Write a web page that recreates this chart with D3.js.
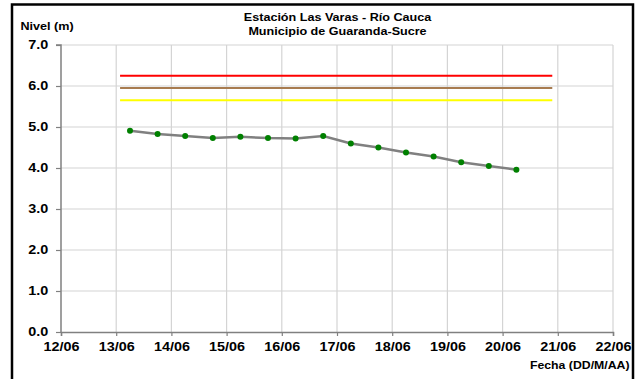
<!DOCTYPE html>
<html><head><meta charset="utf-8">
<script src="https://cdn.jsdelivr.net/npm/d3@7"></script>
<style>body{margin:0;background:#fff}svg{display:block;font-family:"Liberation Sans",Arial,sans-serif}</style>
</head><body><svg id="c" width="643" height="379"></svg>
<script>
// Data: day offsets measured from 12/06 (0 = 12/06 00:00)
const titleLines = ["Estación Las Varas - Río Cauca", "Municipio de Guaranda-Sucre"];
const xTickLabels = ["12/06","13/06","14/06","15/06","16/06","17/06","18/06","19/06","20/06","21/06","22/06"];
const yTickValues = [0,1,2,3,4,5,6,7];
const obsDays = [1.25,1.75,2.25,2.75,3.25,3.75,4.25,4.75,5.25,5.75,6.25,6.75,7.25,7.75,8.25];
const obsLevels = [4.91,4.83,4.78,4.73,4.76,4.73,4.72,4.78,4.60,4.50,4.38,4.28,4.14,4.05,3.96];
const thresholdNames = ["rojo","naranja","amarillo"];
const thresholdLevels = [6.25,5.95,5.65];
const thresholdColors = ["#ff0000","#a87c50","#ffff00"];
const thresholdSpan = [1.07, 8.9];

const SX = 1.2; // horizontal stretch of text seen in the reference
const svg = d3.select("#c");
const x = d3.scaleLinear().domain([0,10]).range([61,613]);
const y = d3.scaleLinear().domain([0,7]).range([332,45]);

// outer frame
svg.append("rect").attr("x",12).attr("y",4.5).attr("width",621).attr("height",390)
  .attr("fill","none").attr("stroke","#000").attr("stroke-width",2.5);

// grid
svg.append("g").selectAll("line").data(yTickValues.filter(v=>v>0)).join("line")
  .attr("x1",x(0)).attr("x2",x(10)).attr("y1",d=>y(d)).attr("y2",d=>y(d))
  .attr("stroke","#d4d4d4").attr("stroke-width",1.2);
svg.append("g").selectAll("line").data(d3.range(1,11)).join("line")
  .attr("x1",d=>x(d)).attr("x2",d=>x(d)).attr("y1",y(0)).attr("y2",y(7))
  .attr("stroke","#d4d4d4").attr("stroke-width",1.2);

// axes
const yAxis = d3.axisLeft(y).tickValues(yTickValues).tickFormat(d3.format(".1f")).tickSize(5);
const gy = svg.append("g").attr("transform",`translate(${x(0)},0)`).call(yAxis);
const xAxis = d3.axisBottom(x).tickValues(d3.range(0,11)).tickFormat((d,i)=>xTickLabels[i]).tickSize(4);
const gx = svg.append("g").attr("transform",`translate(0,${y(0)})`).call(xAxis);
[gx,gy].forEach(g=>{
  g.select(".domain").attr("stroke","#808080").attr("stroke-width",1.5);
  g.selectAll(".tick line").attr("stroke","#808080").attr("stroke-width",1.2);
  g.selectAll("text").attr("fill","#000").style("font-weight","bold").style("font-size","12px")
    .style("font-family",'"Liberation Sans",Arial,sans-serif');
});
gy.select(".domain").attr("d",`M-5,${y(7)}H0V${y(0)}`);
gy.selectAll(".tick text").attr("x",-12.7/SX).attr("transform",`scale(${SX},1)`);
gx.selectAll(".tick text").attr("y",18.7).attr("dy",0).attr("transform",`scale(${SX},1)`);

// thresholds
svg.append("g").selectAll("line").data(thresholdLevels).join("line")
  .attr("x1",x(thresholdSpan[0])).attr("x2",x(thresholdSpan[1]))
  .attr("y1",d=>y(d)).attr("y2",d=>y(d))
  .attr("stroke",(d,i)=>thresholdColors[i]).attr("stroke-width",2);

// series
const pts = obsDays.map((d,i)=>[d,obsLevels[i]]);
svg.append("path").datum(pts).attr("fill","none").attr("stroke","#808080").attr("stroke-width",2.5)
  .attr("d",d3.line().x(d=>x(d[0])).y(d=>y(d[1])));
svg.append("g").selectAll("circle").data(pts).join("circle")
  .attr("cx",d=>x(d[0])).attr("cy",d=>y(d[1])).attr("r",3).attr("fill","#008000");

// texts
function stretchedText(tx, ty, str, size, anchor, sx){
  svg.append("text").attr("transform",`translate(${tx},${ty}) scale(${sx||SX},1)`)
    .attr("text-anchor",anchor).style("font-weight","bold").style("font-size",size+"px").text(str);
}
titleLines.forEach((t,i)=>stretchedText(337.5, 21+i*14, t, 10.5, "middle"));
stretchedText(20.5, 29.5, "Nivel (m)", 10.5, "start");
stretchedText(629.5, 369, "Fecha (DD/M/AA)", 10, "end", 1.23);
</script></body></html>
